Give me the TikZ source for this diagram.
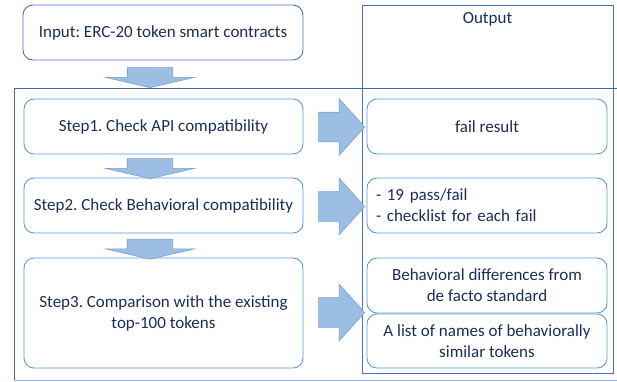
\documentclass[tikz,border=0pt]{standalone}
\usepackage{fontspec}
\setmainfont{Carlito}
\frenchspacing
\usetikzlibrary{shapes.arrows}
\definecolor{boxtext}{RGB}{28,46,88}
\definecolor{stepline}{RGB}{91,155,213}
\definecolor{inline}{RGB}{68,114,196}
\definecolor{arrowfill}{RGB}{157,190,227}
\definecolor{arrowline}{RGB}{120,160,208}
\definecolor{frameline}{RGB}{65,105,150}
\definecolor{framelow}{RGB}{150,180,215}
\begin{document}
\begin{tikzpicture}[x=1pt, y=-1pt,
    font=\fontsize{17}{21}\selectfont, text=boxtext,
    stepbox/.style={draw=stepline, line width=0.9pt, rounded corners=10pt, fill=white, align=center, inner sep=0pt},
    inbox/.style={stepbox, draw=inline},
    downarr/.style={single arrow, draw=arrowline, fill=arrowfill, line width=0.6pt, rotate=-90,
        minimum height=20pt, inner xsep=0pt, inner ysep=22.5pt, single arrow head extend=21.5pt,
        single arrow tip angle=154, single arrow head indent=0pt},
    rightarr/.style={single arrow, draw=arrowline, fill=arrowfill, line width=0.6pt,
        minimum height=46pt, inner xsep=0pt, inner ysep=14.5pt, single arrow head extend=13.5pt,
        single arrow tip angle=96, single arrow head indent=0pt}]
    \useasboundingbox (0,0) rectangle (617,381);

    % outer frame round the three steps
    \draw[frameline, line width=1pt] (617,88) -- (14,88) -- (14,380);
    \draw[framelow, line width=1pt] (14,380) -- (617,380);

    \node[draw=inline, line width=1pt, minimum width=251pt, minimum height=368pt, inner sep=0pt] (outbox) at (487.5,189) {};
    \node (outtitle) at (487.5,19) {Output};

    \node[inbox, minimum width=280pt, minimum height=55pt] (input) at (163,32.5) {Input: ERC-20 token smart contracts};

    \node[stepbox, minimum width=279pt, minimum height=55pt] (step1) at (163.5,126.5) {Step1. Check API compatibility};
    \node[stepbox, minimum width=279pt, minimum height=55pt] (step2) at (163.5,205.5) {Step2. Check Behavioral compatibility};
    \node[stepbox, minimum width=279pt, minimum height=110pt] (step3) at (163.5,313) {Step3. Comparison with the existing\\top-100 tokens};

    \node[downarr] (down1) at (150,75) {};
    \node[downarr] (down2) at (150,166) {};
    \node[downarr] (down3) at (150,246.5) {};

    \node[rightarr] (right1) at (335,127) {};
    \node[rightarr] (right2) at (335,206.5) {};
    \node[rightarr] (right3) at (335,312.5) {};

    \node[stepbox, minimum width=240pt, minimum height=55pt] (fail) at (487,126.5) {fail result};
    \node[stepbox, minimum width=240pt, minimum height=55pt, text width=222pt, align=left] (pass) at (487,205.5) {- 19 pass/fail\\- checklist for each fail};
    \node[stepbox, minimum width=240pt, minimum height=55pt] (diff) at (487,285.5) {Behavioral differences from\\de facto standard};
    \node[stepbox, minimum width=240pt, minimum height=54pt] (similar) at (487,341) {A list of names of behaviorally\\similar tokens};
\end{tikzpicture}
\end{document}
